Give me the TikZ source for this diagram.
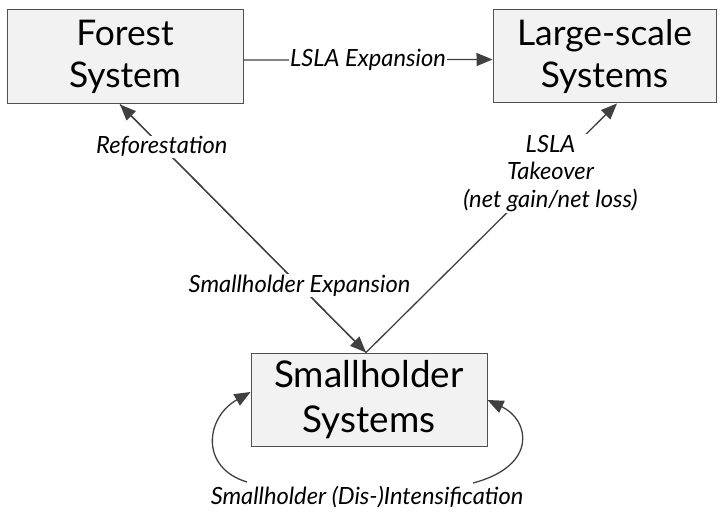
\documentclass[tikz,border=0pt]{standalone}
\usepackage{fontspec}
\setmainfont{Lato}
\usetikzlibrary{arrows.meta}
\definecolor{linegrey}{HTML}{404040}
\definecolor{boxfill}{HTML}{F2F2F2}
\definecolor{boxline}{HTML}{505050}
\tikzset{
  sysbox/.style={draw=boxline, fill=boxfill, line width=1pt, inner sep=0pt,
    align=center, font=\fontsize{35.5}{42}\selectfont},
  flow/.style={draw=linegrey, line width=1.3pt,
    -{Triangle[length=16bp,width=13bp]}, color=linegrey},
  lbl/.style={fill=white, inner sep=1pt, text=black, align=center,
    font=\itshape\fontsize{23.8}{28}\selectfont}
}
\begin{document}
\begin{tikzpicture}[x=1bp, y=-1bp]
\useasboundingbox (0,0) rectangle (725,513);
% system boxes
\node[sysbox, minimum width=236bp, minimum height=94bp] (forest) at (125,57) {Forest\\System};
\node[sysbox, minimum width=223bp, minimum height=93bp] (large) at (604.5,56.5) {Large-scale\\Systems};
\node[sysbox, minimum width=236bp, minimum height=93bp,
  font=\fontsize{37}{46}\selectfont] (small) at (369,399.5) {Smallholder\\Systems};
% attachment points
\coordinate (fb) at ([xshift=-5bp]forest.south);
\coordinate (st) at ([xshift=-3bp]small.north);
\coordinate (lb) at ([xshift=12.5bp]large.south);
\coordinate (loopL) at (247,482);
\coordinate (loopR) at (473,483);
% flows between systems
\draw[flow] ([yshift=-3bp]forest.east) -- ([yshift=-3bp]large.west);
\draw[flow] (st) -- (fb);
\draw[flow] (fb) -- (st);
\draw[flow] (st) -- (lb);
% intensification loops
\draw[flow] (loopL) .. controls (200,468) and (205,418) .. ([yshift=7.5bp]small.west);
\draw[flow] (loopR) .. controls (538,466) and (530,420) .. ([yshift=-0.5bp]small.east);
% flow labels, set over the lines
\path ([yshift=-3bp]forest.east) -- node[lbl] (lexp) {LSLA Expansion} ([yshift=-3bp]large.west);
\path (st) -- node[lbl, pos=0.83] (refor) {Reforestation} (fb);
\path (fb) -- node[lbl, pos=0.73] (sexp) {Smallholder Expansion} (st);
\path (st) -- node[lbl, pos=0.735, yshift=-4bp] (ltake) {LSLA\\Takeover\\(net gain/net loss)} (lb);
\node[lbl, fill=none] (intens) at (367,497) {Smallholder (Dis-)Intensification};
\end{tikzpicture}
\end{document}
